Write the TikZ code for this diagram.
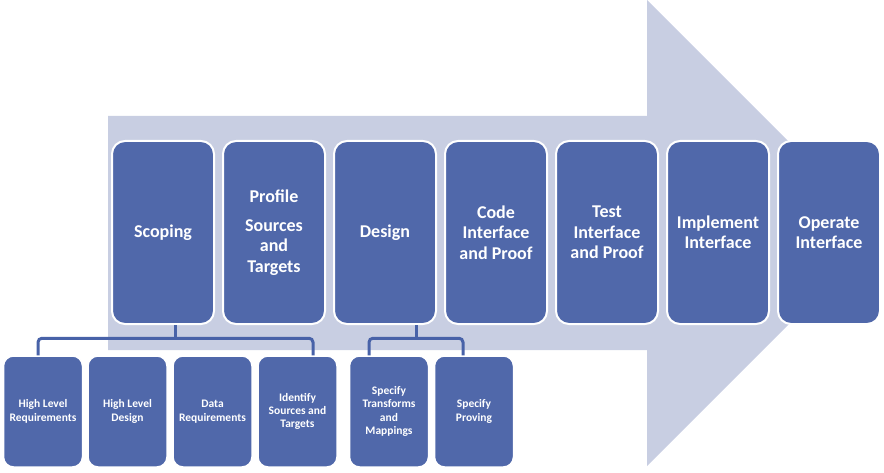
\documentclass[tikz,border=0pt]{standalone}
\usepackage{fontspec}
\setmainfont{Carlito}
\definecolor{fleche}{HTML}{C8CEE2}
\definecolor{bloc}{HTML}{5068AA}
\definecolor{trait}{HTML}{4862A8}

\begin{document}
\begin{tikzpicture}[x=1pt, y=-1pt,
	etape/.style={draw=white, line width=2pt, fill=bloc, rounded corners=13pt, minimum width=102pt, minimum height=183pt, text=white, align=center, inner sep=2pt, font=\bfseries\fontsize{18}{20.5}\selectfont},
	tache/.style={draw=white, line width=1.5pt, fill=bloc, rounded corners=10pt, minimum width=79pt, minimum height=111pt, text=white, align=center, inner sep=1pt, font=\bfseries\fontsize{11.5}{13.4}\selectfont},
	lien/.style={draw=trait, line width=3pt, rounded corners=4pt}]
		\useasboundingbox (0,0) rectangle (884,473);
		%La grande flèche du fond
		\fill[fleche] (108,116) -- (647,116) -- (647,0) -- (880,233) -- (647,466) -- (647,350) -- (108,350) -- cycle;
		
		%Les étapes principales
		\node[etape] (Scoping) at (163,232.5) {Scoping};
		\node[etape] (Profile) at (274,232.5) {Profile\\[8pt]Sources\\and\\Targets};
		\node[etape] (Design) at (385,232.5) {Design};
		\node[etape] (Code) at (496,232.5) {Code\\Interface\\and Proof};
		\node[etape] (Test) at (607,232.5) {Test\\Interface\\and Proof};
		\node[etape] (Implement) at (718,232.5) {Implement\\Interface};
		\node[etape] (Operate) at (829,232.5) {Operate\\Interface};
		
		%Les sous-tâches
		\node[tache] (HLR) at (43,411.5) {High Level\\Requirements};
		\node[tache] (HLD) at (127.5,411.5) {High Level\\Design};
		\node[tache] (DR) at (212.5,411.5) {Data\\Requirements};
		\node[tache] (IST) at (297.5,411.5) {Identify\\Sources and\\Targets};
		\node[tache] (STM) at (389,411.5) {Specify\\Transforms\\and\\Mappings};
		\node[tache] (SP) at (474,411.5) {Specify\\Proving};
		
		%Les accolades
		\draw[lien] ([xshift=12pt]Scoping.south) -- ++(0,13);
		\draw[lien] ([xshift=-5pt]HLR.north) -- ++(0,-17) -| ([xshift=15.5pt]IST.north);
		\draw[lien] ([xshift=31pt]Design.south) -- ++(0,13);
		\draw[lien] ([xshift=-20pt]STM.north) -- ++(0,-17) -| ([xshift=-11pt]SP.north);
	\end{tikzpicture}
\end{document}
